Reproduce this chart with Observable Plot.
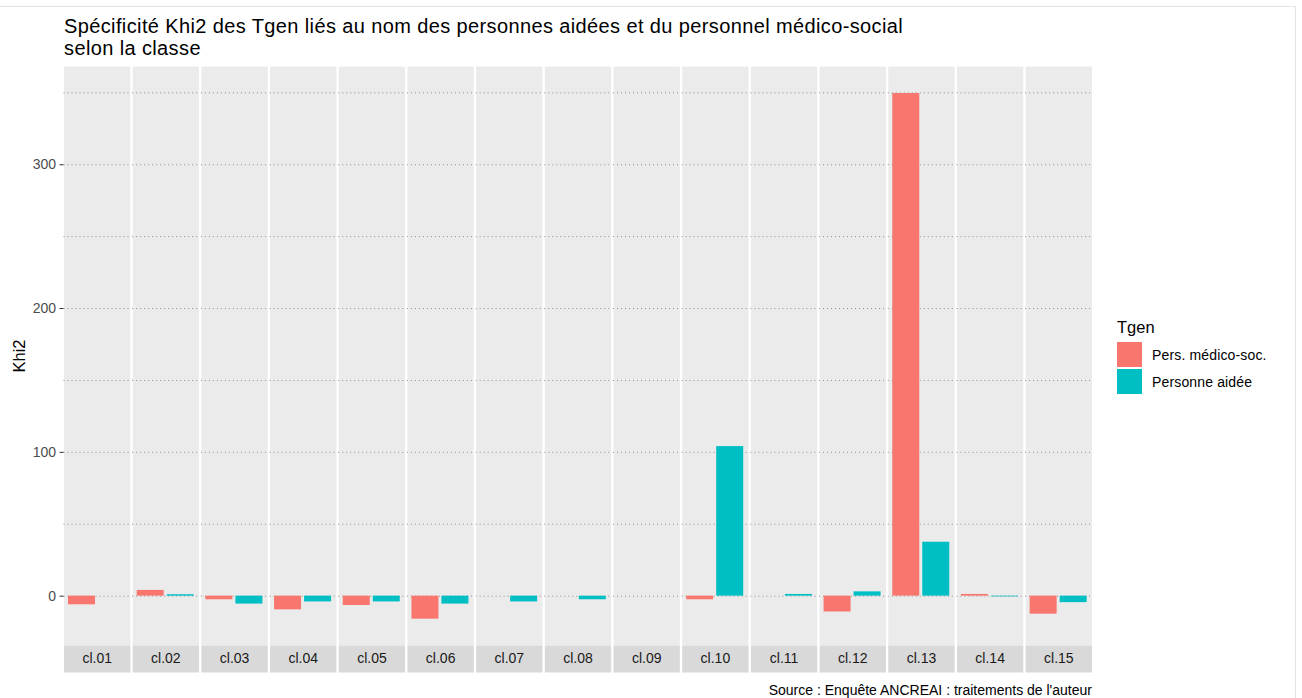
<!DOCTYPE html>
<html>
<head>
<meta charset="utf-8">
<script src="https://cdn.jsdelivr.net/npm/d3@7"></script>
<script src="https://cdn.jsdelivr.net/npm/@observablehq/plot@0.6"></script>
<style>
  html, body { margin: 0; padding: 0; background: #fff; }
  body { width: 1302px; height: 698px; position: relative; overflow: hidden; font-family: "Liberation Sans", Arial, sans-serif; }
  #frameline { position: absolute; left: -2px; top: 6px; width: 1297px; height: 700px; border-top: 1px solid #E3E3E3; border-right: 1px solid #E3E3E3; }
  #title { position: absolute; left: 64px; top: 15px; font-size: 20px; letter-spacing: 0.38px; line-height: 22px; color: #000; white-space: nowrap; }
  #chart { position: absolute; left: 0; top: 56px; }
  #ylabel { position: absolute; left: 19px; top: 356px; transform: translate(-50%, -50%) rotate(-90deg); font-size: 16.5px; color: #000; white-space: nowrap; }
  #legend { position: absolute; left: 1117px; top: 317px; }
  #legend .ttl { font-size: 16.5px; color: #000; height: 24px; line-height: 20px; }
  #legend .row { display: flex; align-items: center; height: 27px; }
  #legend .key { width: 25px; height: 25px; margin-right: 10px; }
  #legend .lab { font-size: 14px; letter-spacing: 0.15px; color: #000; }
  #caption { position: absolute; right: 210px; top: 682px; font-size: 14px; color: #000; white-space: nowrap; }
</style>
</head>
<body>
<div id="frameline"></div>
<div id="title">Spécificité Khi2 des Tgen liés au nom des personnes aidées et du personnel médico-social<br>selon la classe</div>
<div id="ylabel">Khi2</div>
<div id="chart"></div>
<div id="legend"></div>
<div id="caption">Source : Enquête ANCREAI : traitements de l'auteur</div>
<script>
// ---- data ----
const classes = ["cl.01","cl.02","cl.03","cl.04","cl.05","cl.06","cl.07","cl.08","cl.09","cl.10","cl.11","cl.12","cl.13","cl.14","cl.15"];
const tgen = ["Pers. médico-soc.", "Personne aidée"];
const persMedicoSoc = [-6, 4, -2.5, -9.5, -6.5, -16, null, null, null, -2.5, null, -11, 349.5, 1.2, -12.5];
const personneAidee = [null, 1, -5.5, -4, -4, -5.5, -4, -2.5, null, 104, 1.2, 3, 37.5, -0.5, -4.5];
const colors = ["#F8766D", "#00BFC4"];
const yTicks = [0, 100, 200, 300];
const gridMajor = [0, 100, 200, 300];
const gridMinor = [50, 150, 250, 350];

const rows = [];
classes.forEach((c, i) => {
  if (persMedicoSoc[i] != null) rows.push({classe: c, tgen: tgen[0], khi2: persMedicoSoc[i]});
  if (personneAidee[i] != null) rows.push({classe: c, tgen: tgen[1], khi2: personneAidee[i]});
});
// grid rows for every panel (so that every facet, even an empty one, is drawn)
const gridRows = [];
classes.forEach(c => gridMajor.concat(gridMinor).forEach(v => gridRows.push({classe: c, v})));

const W = 1302, H = 620, mTop = 10, mBottom = 31, mLeft = 63.5, mRight = 210.5;
const panelH = H - mTop - mBottom;
const stripH = 27;

const plot = Plot.plot({
  width: W,
  height: H,
  marginTop: mTop,
  marginBottom: mBottom,
  marginLeft: mLeft,
  marginRight: mRight,
  style: { fontFamily: "Liberation Sans, Arial, sans-serif", background: "transparent", overflow: "visible" },
  fx: { domain: classes, paddingInner: 0.034, paddingOuter: 0, round: false, label: null },
  x: { domain: tgen, paddingInner: 0.1, paddingOuter: 0.15, axis: null },
  y: { domain: [-34.3, 368.3], label: null },
  color: { domain: tgen, range: colors },
  marks: [
    Plot.frame({ fill: "#EBEBEB", stroke: null }),
    Plot.frame({ fill: "#D9D9D9", stroke: null, insetTop: panelH, insetBottom: -stripH }),
    Plot.ruleY(gridRows, { fx: "classe", y: "v", stroke: "#8f8f8f", strokeWidth: 1, strokeDasharray: "1,3" }),
    Plot.barY(rows, { fx: "classe", x: "tgen", y: "khi2", fill: "tgen" }),
    Plot.axisY({ ticks: yTicks, tickSize: 4, tickPadding: 4, stroke: "#333333", color: "#4D4D4D", fontSize: 14, label: null }),
    Plot.axisFx({ anchor: "bottom", tickSize: 0, tickPadding: 8, fontSize: 14, color: "#1A1A1A", label: null })
  ]
});
document.getElementById("chart").appendChild(plot);

// legend
const lg = document.getElementById("legend");
const t = document.createElement("div"); t.className = "ttl"; t.textContent = "Tgen"; lg.appendChild(t);
tgen.forEach((name, i) => {
  const r = document.createElement("div"); r.className = "row";
  const k = document.createElement("div"); k.className = "key"; k.style.background = colors[i];
  const l = document.createElement("div"); l.className = "lab"; l.textContent = name;
  r.appendChild(k); r.appendChild(l); lg.appendChild(r);
});
</script>
</body>
</html>
